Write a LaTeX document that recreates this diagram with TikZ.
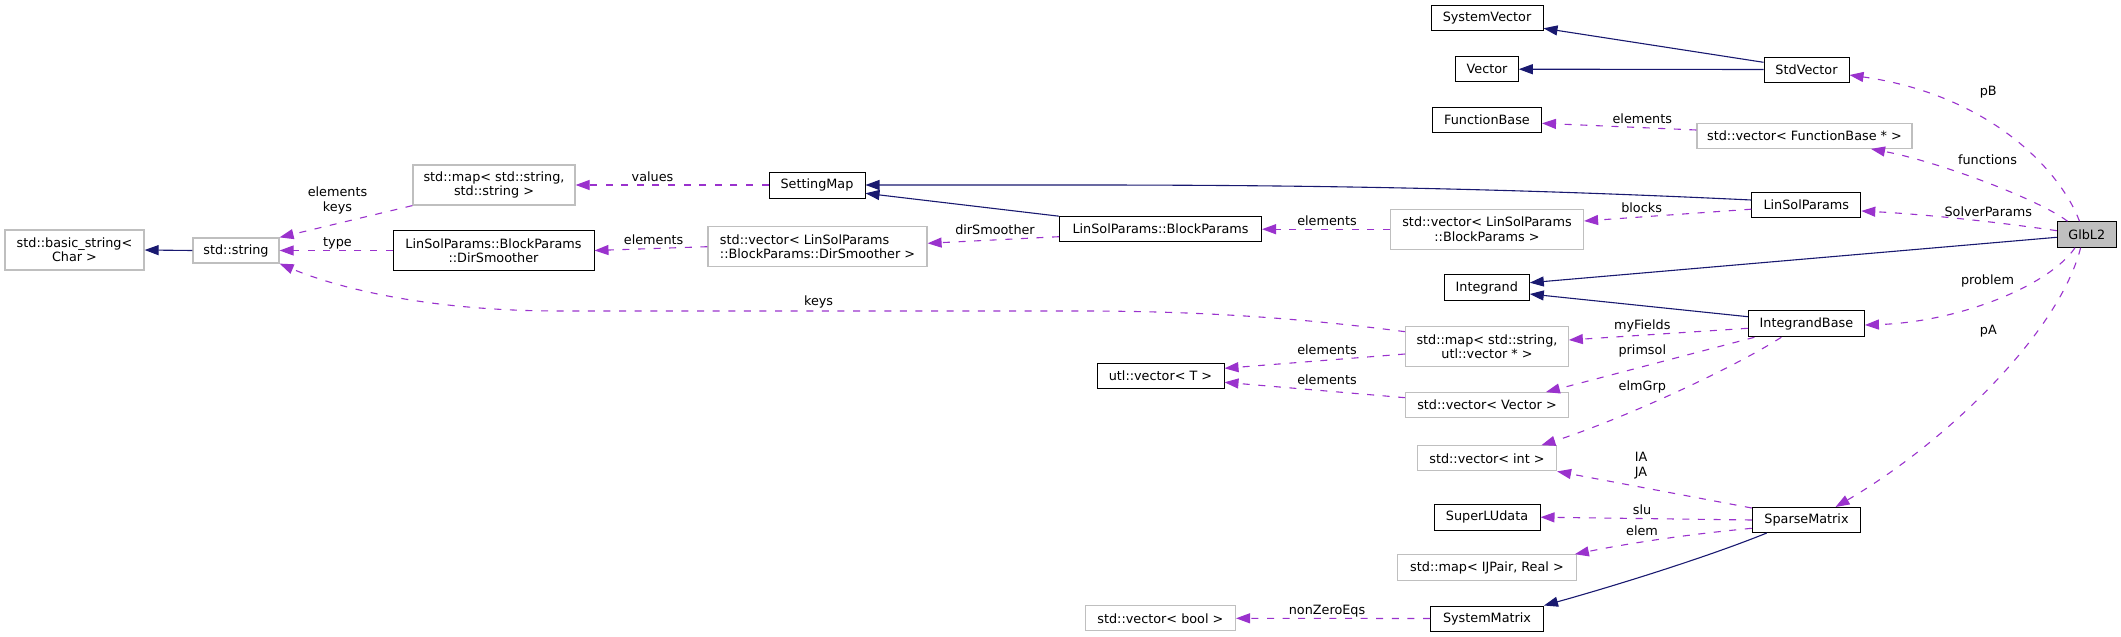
\documentclass[tikz,border=0pt]{standalone}
\usepackage{fontspec}
\setmainfont{DejaVu Sans}
\usetikzlibrary{arrows.meta,calc}
\definecolor{inhblue}{HTML}{191970}
\definecolor{deppurple}{HTML}{9A32CD}
\definecolor{extgray}{HTML}{BFBFBF}
\begin{document}
\begin{tikzpicture}[x=0.5pt,y=-0.5pt,
  every node/.style={font=\fontsize{6.4}{7.2}\selectfont, inner sep=0pt, align=center},
  cls/.style={draw=black, line width=0.5pt, rectangle},
  ext/.style={draw=extgray, line width=0.6pt, rectangle},
  mainc/.style={draw=black, fill=extgray, line width=0.5pt, rectangle},
  lbl/.style={text=black},
  inh/.style={draw=inhblue, line width=0.55pt, -{Triangle[length=7pt,width=5pt]}},
  dep/.style={draw=deppurple, line width=0.55pt, dash pattern=on 3.5pt off 4.3pt, -{Triangle[length=7pt,width=5pt]}}]
\useasboundingbox (0,0) rectangle (2121,637);
% nodes
\node[ext, minimum width=69.5pt, minimum height=20pt] (basic) at (74.5,250) {std::basic\_string<\\Char >};
\node[ext, minimum width=43pt, minimum height=12.5pt] (string) at (236,250.5) {std::string};
\node[ext, minimum width=81pt, minimum height=20pt] (mapss) at (494,185) {std::map< std::string,\\std::string >};
\node[cls, minimum width=100.5pt, minimum height=20pt] (dirsm) at (493.5,250.5) {LinSolParams::BlockParams\\::DirSmoother};
\node[cls, minimum width=48pt, minimum height=13pt] (settingmap) at (817,185) {SettingMap};
\node[ext, align=left, minimum width=109.5pt, minimum height=20pt] (vecdir) at (817.5,246.7) {std::vector< LinSolParams\\::BlockParams::DirSmoother >};
\node[cls, minimum width=101pt, minimum height=12.5pt] (blockparams) at (1160.5,229.2) {LinSolParams::BlockParams};
\node[ext, minimum width=96.5pt, minimum height=20pt] (vecblock) at (1487,229.2) {std::vector< LinSolParams\\::BlockParams >};
\node[cls, minimum width=56pt, minimum height=12.5pt] (sysvec) at (1487,18.3) {SystemVector};
\node[cls, minimum width=31.25pt, minimum height=12.5pt] (vector) at (1487,69.2) {Vector};
\node[cls, minimum width=54.5pt, minimum height=12.5pt] (funcbase) at (1487,120) {FunctionBase};
\node[cls, minimum width=42.5pt, minimum height=12.5pt] (stdvector) at (1806.5,69.5) {StdVector};
\node[ext, minimum width=107.5pt, minimum height=12.5pt] (vecfunc) at (1804.5,135.8) {std::vector< FunctionBase * >};
\node[cls, minimum width=54.5pt, minimum height=12.5pt] (linsol) at (1806.3,205.2) {LinSolParams};
\node[mainc, minimum width=29.5pt, minimum height=12.75pt] (glbl2) at (2086.8,234.5) {GlbL2};
\node[cls, minimum width=42.5pt, minimum height=13pt] (integrand) at (1486.8,287.8) {Integrand};
\node[ext, minimum width=81.25pt, minimum height=20pt] (mapsu) at (1487,346.7) {std::map< std::string,\\utl::vector * >};
\node[cls, minimum width=63.5pt, minimum height=12.5pt] (utlvec) at (1160.5,376) {utl::vector< T >};
\node[ext, minimum width=81.25pt, minimum height=12.5pt] (vecvec) at (1487,405.2) {std::vector< Vector >};
\node[ext, minimum width=69.5pt, minimum height=12.5pt] (vecint) at (1487,458.3) {std::vector< int >};
\node[cls, minimum width=53pt, minimum height=13pt] (superlu) at (1487,517.2) {SuperLUdata};
\node[ext, minimum width=89.25pt, minimum height=13pt] (mapij) at (1487,567.8) {std::map< IJPair, Real >};
\node[ext, minimum width=75pt, minimum height=12.5pt] (vecbool) at (1160.4,618.3) {std::vector< bool >};
\node[cls, minimum width=56.5pt, minimum height=12.5pt] (sysmat) at (1487,618.5) {SystemMatrix};
\node[cls, minimum width=58pt, minimum height=13pt] (integbase) at (1806.4,323.8) {IntegrandBase};
\node[cls, minimum width=54.25pt, minimum height=12.5pt] (sparse) at (1806.5,520) {SparseMatrix};
% edges
\draw[inh] (string.west) -- (basic.east);
\draw[dep] (mapss.south west) -- (string.north east);
\draw[dep] (dirsm.west) -- (string.east);
\draw[dep] ($(mapsu.west)+(0,-15)$) .. controls (1300,318) and (1200,311) .. (1080,311) -- (560,311) .. controls (420,311) and (330,285) .. (string.south east);
\draw[dep] (settingmap.west) -- (mapss.east);
\draw[inh] (blockparams.north west) -- ($(settingmap.east)+(0,8.3)$);
\draw[inh] ($(linsol.west)+(0,-5.2)$) .. controls (1500,188) and (1300,185) .. (1080,185) -- (settingmap.east);
\draw[dep] (vecdir.west) -- (dirsm.east);
\draw[dep] ($(blockparams.west)+(0,7.5)$) -- ($(vecdir.east)+(0,-3.4)$);
\draw[dep] (vecblock.west) -- (blockparams.east);
\draw[dep] ($(linsol.west)+(0,4)$) -- ($(vecblock.east)+(0,-8.2)$);
\draw[inh] ($(stdvector.west)+(0,-7.2)$) -- ($(sysvec.east)+(0,10)$);
\draw[inh] (stdvector.west) -- (vector.east);
\draw[dep] ($(vecfunc.west)+(0,-5.8)$) -- ($(funcbase.east)+(0,3.3)$);
\draw[dep] ($(glbl2.north)+(-7.3,0)$) .. controls (2060,170) and (1990,95) .. ($(stdvector.east)+(0,5.5)$);
\draw[dep] ($(glbl2.north west)+(10.7,0)$) .. controls (2040,200) and (1940,162) .. ($(vecfunc.south)+(66.5,0)$);
\draw[dep] ($(glbl2.west)+(0,-3.8)$) .. controls (1990,221) and (1920,214) .. ($(linsol.east)+(0,5.8)$);
\draw[inh] ($(glbl2.west)+(0,2.8)$) -- ($(integrand.east)+(0,-5.1)$);
\draw[inh] ($(integbase.west)+(0,-7.1)$) -- ($(integrand.east)+(0,6.2)$);
\draw[dep] ($(glbl2.south)+(-11.8,0)$) .. controls (2050,285) and (1960,322) .. ($(integbase.east)+(0,1.2)$);
\draw[dep] ($(glbl2.south)+(-6.2,0)$) .. controls (2060,330) and (1950,440) .. ($(sparse.north)+(29,0)$);
\draw[dep] ($(integbase.west)+(0,4.5)$) -- ($(mapsu.east)+(0,-6.7)$);
\draw[dep] ($(integbase.south west)+(6.5,0)$) -- ($(vecvec.north east)+(-23,0)$);
\draw[dep] ($(integbase.south west)+(33.4,0)$) .. controls (1730,370) and (1620,420) .. ($(vecint.north east)+(-15.7,0)$);
\draw[dep] ($(mapsu.west)+(0,7.3)$) -- ($(utlvec.east)+(0,-7.7)$);
\draw[dep] ($(vecvec.west)+(0,-7.5)$) -- ($(utlvec.east)+(0,6.3)$);
\draw[dep] ($(sparse.north west)+(0,1)$) -- (vecint.south east);
\draw[dep] (sparse.west) -- (superlu.east);
\draw[dep] ($(sparse.west)+(0,8.3)$) .. controls (1680,535) and (1620,545) .. ($(mapij.north east)+(-2,0)$);
\draw[inh] ($(sparse.south west)+(15,0)$) .. controls (1700,560) and (1600,590) .. (sysmat.north east);
\draw[dep] (sysmat.west) -- (vecbool.east);
% edge labels
\node[lbl] (l1) at (337.5,200.5) {elements\\keys};
\node[lbl] (l2) at (337.5,243.3) {type};
\node[lbl] (l3) at (818.6,302.3) {keys};
\node[lbl] (l4) at (652.5,176.7) {values};
\node[lbl] (l5) at (653.6,240) {elements};
\node[lbl] (l6) at (995,230) {dirSmoother};
\node[lbl] (l7) at (1327,220.7) {elements};
\node[lbl] (l8) at (1641.6,207.3) {blocks};
\node[lbl] (l9) at (1642.3,118.3) {elements};
\node[lbl] (l10) at (1988.3,92.3) {pB};
\node[lbl] (l11) at (1987.5,159.3) {functions};
\node[lbl] (l12) at (1988.3,211.7) {SolverParams};
\node[lbl] (l13) at (1987.5,280.7) {problem};
\node[lbl] (l14) at (1988.3,331) {pA};
\node[lbl] (l15) at (1642.3,326) {myFields};
\node[lbl] (l16) at (1642.3,350.7) {primsol};
\node[lbl] (l17) at (1642.3,386.7) {elmGrp};
\node[lbl] (l18) at (1327,350) {elements};
\node[lbl] (l19) at (1327,379.3) {elements};
\node[lbl] (l20) at (1641,465.5) {IA\\JA};
\node[lbl] (l21) at (1642,510) {slu};
\node[lbl] (l22) at (1642,531) {elem};
\node[lbl] (l23) at (1327,610.7) {nonZeroEqs};
\end{tikzpicture}
\end{document}
